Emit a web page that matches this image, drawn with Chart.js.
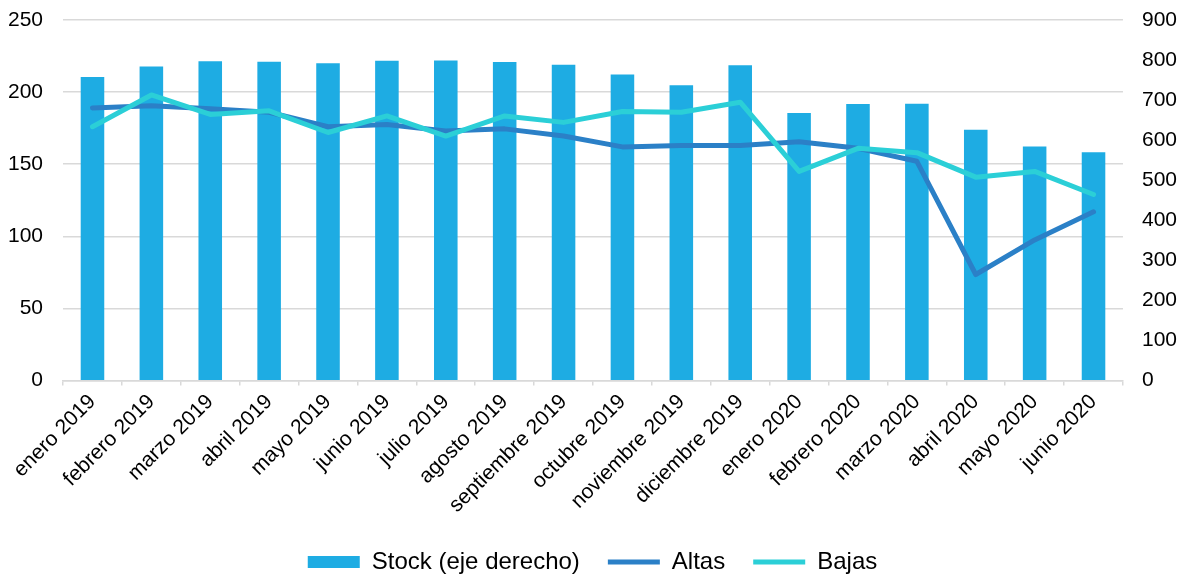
<!DOCTYPE html>
<html>
<head>
<meta charset="utf-8">
<script src="https://cdn.jsdelivr.net/npm/chart.js@4/dist/chart.umd.min.js"></script>
<style>
  html, body { margin: 0; padding: 0; background: #fff; }
  #wrap { width: 1186px; height: 576px; position: relative; }
</style>
</head>
<body>
<div id="wrap"><canvas id="chart"></canvas></div>
<script>
// ===== DATA =====
const months = [
  'enero 2019', 'febrero 2019', 'marzo 2019', 'abril 2019', 'mayo 2019', 'junio 2019',
  'julio 2019', 'agosto 2019', 'septiembre 2019', 'octubre 2019', 'noviembre 2019', 'diciembre 2019',
  'enero 2020', 'febrero 2020', 'marzo 2020', 'abril 2020', 'mayo 2020', 'junio 2020'
];
// Stock, right axis
const stock = [758, 784, 797, 796, 792, 798, 799, 795, 788, 764, 737, 787, 668, 690, 691, 626, 584, 570];
// Altas / Bajas, left axis
const altas = [189, 190.5, 188.5, 186, 176, 177.5, 173, 174.5, 169.5, 162, 163, 163, 165.5, 161, 152, 73.5, 97.5, 117];
const bajas = [176, 198, 184.5, 187, 172, 183.5, 169.5, 183.5, 179, 186.5, 186, 193, 145, 161, 158, 141, 145, 129];

const leftTicks = { min: 0, max: 250, step: 50 };
const rightTicks = { min: 0, max: 900, step: 100 };

const FONT = "'Liberation Sans', Arial, sans-serif";
const GRID = '#d9d9d9';

// chart.js counts tick padding twice in the axis width and adds it above the plot; undo that
function trimY(pad) {
  return (s) => { s.width -= pad; s.paddingTop = 0; s.paddingBottom = 0; };
}

new Chart(document.getElementById('chart').getContext('2d'), {
  data: {
    labels: months,
    datasets: [
      { type: 'bar', label: 'Stock (eje derecho)', data: stock, yAxisID: 'y1',
        backgroundColor: '#1eace3', borderWidth: 0, barPercentage: 0.4, categoryPercentage: 1,
        pointStyle: 'rect', order: 3 },
      { type: 'line', label: 'Altas', data: altas, yAxisID: 'y',
        borderColor: '#2b80c7', backgroundColor: '#2b80c7', borderWidth: 5,
        borderCapStyle: 'round', borderJoinStyle: 'round', pointRadius: 0, pointStyle: 'line',
        tension: 0, order: 2 },
      { type: 'line', label: 'Bajas', data: bajas, yAxisID: 'y',
        borderColor: '#2bcfd7', backgroundColor: '#2bcfd7', borderWidth: 5,
        borderCapStyle: 'round', borderJoinStyle: 'round', pointRadius: 0, pointStyle: 'line',
        tension: 0, order: 1 }
    ]
  },
  options: {
    responsive: true, maintainAspectRatio: false, animation: false,
    layout: { padding: { left: 8, right: 9, top: 20, bottom: -8 } },
    plugins: {
      tooltip: { enabled: false },
      legend: {
        position: 'bottom',
        labels: {
          usePointStyle: true, pointStyleWidth: 52, boxHeight: 12,
          color: '#000', padding: 28,
          font: { family: FONT, size: 24 },
          sort: (a, b) => a.datasetIndex - b.datasetIndex
        }
      }
    },
    scales: {
      x: {
        grid: { display: true, drawOnChartArea: false, drawTicks: true, tickLength: 5, color: GRID, lineWidth: 1.5 },
        border: { display: true, color: GRID, width: 1.5 },
        ticks: { color: '#000', font: { family: FONT, size: 21 }, minRotation: 45, maxRotation: 45, autoSkip: false, padding: 4 },
        afterFit: (s) => { s.paddingLeft = 0; s.paddingRight = 0; s.height = 141.5; }
      },
      y: {
        position: 'left', min: leftTicks.min, max: leftTicks.max,
        grid: { color: GRID, lineWidth: 1.5, drawTicks: false },
        border: { display: false },
        ticks: { stepSize: leftTicks.step, color: '#000', font: { family: FONT, size: 21 }, padding: 20 },
        afterFit: trimY(20)
      },
      y1: {
        position: 'right', min: rightTicks.min, max: rightTicks.max,
        grid: { drawOnChartArea: false, drawTicks: false },
        border: { display: false },
        ticks: { stepSize: rightTicks.step, color: '#000', font: { family: FONT, size: 21 }, padding: 19 },
        afterFit: trimY(19)
      }
    }
  }
});
</script>
</body>
</html>
